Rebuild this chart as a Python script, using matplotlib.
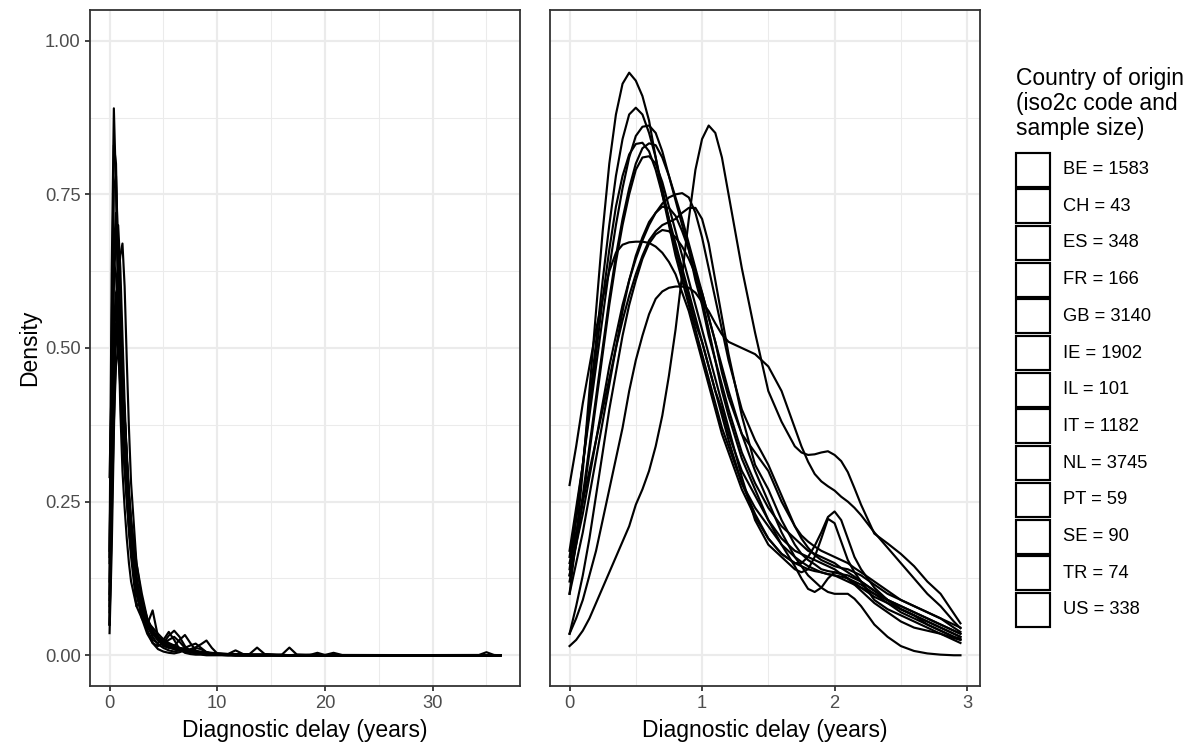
import matplotlib
matplotlib.use("Agg")
import matplotlib.pyplot as plt
from matplotlib.patches import Rectangle

plt.rcParams["font.family"] = ["Liberation Sans", "DejaVu Sans"]

# legend: iso2c code and sample size
codes = ["BE", "CH", "ES", "FR", "GB", "IE", "IL", "IT", "NL", "PT", "SE", "TR", "US"]
sizes = [1583, 43, 348, 166, 3140, 1902, 101, 1182, 3745, 59, 90, 74, 338]

x_full = [0, 0.2, 0.4, 0.6, 0.8, 1.0, 1.2, 1.4, 1.6, 1.8, 2.0,
          2.5, 3.0, 3.5, 4.0, 4.5, 5.0, 5.5, 6.0, 6.5, 7.0, 7.5, 8.0, 8.5, 9.0, 9.5, 10.0,
          11.0, 11.7, 12.4, 13.0, 13.7, 14.4, 16.0, 16.7, 17.4, 18.6, 19.3, 20.0, 20.8, 21.6,
          34.3, 35.0, 35.7, 36.3]
x_short = [0.00, 0.05, 0.10, 0.15, 0.20, 0.25, 0.30, 0.35, 0.40, 0.45, 0.50, 0.55, 0.60,
           0.65, 0.70, 0.75, 0.80, 0.85, 0.90, 0.95, 1.00, 1.05, 1.10, 1.15, 1.20,
           1.3, 1.4, 1.5, 1.6, 1.7, 1.75, 1.8, 1.85, 1.9, 1.95, 2.0, 2.05, 2.1, 2.15, 2.2,
           2.3, 2.4, 2.5, 2.6, 2.7, 2.8, 2.9, 2.95]

# density over the whole range (left panel)
full_be = [0.15, 0.48, 0.76, 0.78, 0.66, 0.53, 0.43, 0.35, 0.28, 0.22, 0.18,
           0.11, 0.075, 0.05, 0.038, 0.03, 0.024, 0.019, 0.015, 0.012, 0.01, 0.008, 0.006, 0.005, 0.004, 0.003, 0.002,
           0.002, 0.002, 0.001, 0.001, 0.001, 0.001, 0, 0, 0, 0, 0, 0, 0, 0, 0, 0, 0, 0]
full_ch = [0.05, 0.22, 0.38, 0.47, 0.50, 0.49, 0.45, 0.39, 0.33, 0.27, 0.22,
           0.13, 0.075, 0.04, 0.025, 0.02, 0.025, 0.038, 0.025, 0.01, 0.004, 0.002, 0.001, 0.001, 0, 0, 0,
           0, 0, 0, 0, 0, 0, 0, 0, 0, 0, 0, 0, 0, 0, 0.0005, 0.005, 0.0005, 0]
full_es = [0.08, 0.36, 0.55, 0.58, 0.53, 0.46, 0.39, 0.33, 0.27, 0.22, 0.18,
           0.11, 0.075, 0.05, 0.035, 0.025, 0.018, 0.013, 0.01, 0.008, 0.006, 0.005, 0.004, 0.003, 0.002, 0.002, 0.001,
           0.001, 0, 0, 0, 0, 0, 0, 0, 0, 0, 0, 0, 0, 0, 0, 0, 0, 0]
full_fr = [0.05, 0.28, 0.48, 0.52, 0.50, 0.45, 0.39, 0.33, 0.27, 0.22, 0.18,
           0.12, 0.08, 0.05, 0.03, 0.018, 0.012, 0.008, 0.006, 0.008, 0.012, 0.016, 0.019, 0.012, 0.005, 0.002, 0.001,
           0.001, 0, 0, 0, 0, 0, 0, 0, 0, 0, 0, 0, 0, 0, 0, 0, 0, 0]
full_gb = [0.12, 0.52, 0.83, 0.80, 0.62, 0.49, 0.41, 0.33, 0.26, 0.20, 0.16,
           0.08, 0.09, 0.05, 0.035, 0.028, 0.022, 0.016, 0.012, 0.009, 0.007, 0.006, 0.005, 0.004, 0.003, 0.003, 0.002,
           0.002, 0.001, 0.001, 0.001, 0.001, 0.001, 0.001, 0, 0.001, 0.001, 0, 0, 0, 0, 0, 0, 0, 0]
full_ie = [0.10, 0.40, 0.66, 0.72, 0.64, 0.55, 0.47, 0.39, 0.32, 0.26, 0.21,
           0.12, 0.075, 0.05, 0.073, 0.03, 0.022, 0.017, 0.013, 0.01, 0.008, 0.006, 0.005, 0.004, 0.003, 0.002, 0.002,
           0.001, 0.001, 0.001, 0, 0, 0, 0, 0, 0, 0, 0, 0, 0, 0, 0, 0, 0, 0]
full_il = [0.05, 0.25, 0.45, 0.53, 0.55, 0.52, 0.45, 0.38, 0.31, 0.25, 0.20,
           0.12, 0.07, 0.04, 0.02, 0.01, 0.006, 0.004, 0.003, 0.005, 0.008, 0.01, 0.013, 0.018, 0.024, 0.012, 0.003,
           0.001, 0, 0, 0, 0, 0, 0, 0, 0, 0, 0, 0.0005, 0.004, 0.0005, 0, 0, 0, 0]
full_it = [0.09, 0.35, 0.60, 0.69, 0.70, 0.63, 0.52, 0.41, 0.32, 0.25, 0.20,
           0.12, 0.08, 0.055, 0.04, 0.03, 0.022, 0.016, 0.012, 0.009, 0.007, 0.005, 0.004, 0.003, 0.003, 0.002, 0.002,
           0.001, 0.001, 0, 0, 0, 0, 0, 0, 0, 0, 0, 0, 0, 0, 0, 0, 0, 0]
full_nl = [0.17, 0.62, 0.89, 0.76, 0.55, 0.40, 0.30, 0.24, 0.19, 0.15, 0.12,
           0.08, 0.06, 0.045, 0.035, 0.025, 0.018, 0.013, 0.01, 0.008, 0.007, 0.006, 0.005, 0.004, 0.004, 0.003, 0.003,
           0.002, 0.002, 0.001, 0.001, 0.001, 0.001, 0, 0, 0, 0, 0, 0, 0, 0, 0, 0, 0, 0]
full_pt = [0.29, 0.45, 0.53, 0.54, 0.50, 0.44, 0.37, 0.31, 0.26, 0.21, 0.17,
           0.10, 0.06, 0.035, 0.02, 0.015, 0.02, 0.032, 0.04, 0.03, 0.015, 0.006, 0.003, 0.002, 0.001, 0.001, 0.001,
           0, 0, 0, 0, 0, 0, 0.001, 0.0125, 0.001, 0, 0, 0, 0, 0, 0, 0, 0, 0]
full_se = [0.07, 0.30, 0.50, 0.59, 0.60, 0.55, 0.47, 0.39, 0.32, 0.26, 0.22,
           0.15, 0.10, 0.06, 0.04, 0.03, 0.02, 0.025, 0.03, 0.022, 0.012, 0.008, 0.012, 0.01, 0.005, 0.003, 0.002,
           0.001, 0.001, 0.001, 0.002, 0.0125, 0.002, 0, 0, 0, 0, 0, 0, 0, 0, 0, 0, 0, 0]
full_tr = [0.036, 0.17, 0.36, 0.52, 0.61, 0.65, 0.67, 0.60, 0.48, 0.37, 0.28,
           0.15, 0.09, 0.06, 0.04, 0.025, 0.015, 0.012, 0.015, 0.025, 0.033, 0.02, 0.008, 0.003, 0.001, 0.001, 0.001,
           0, 0, 0, 0, 0, 0, 0, 0, 0, 0.0005, 0.004, 0.0005, 0, 0, 0, 0, 0, 0]
full_us = [0.16, 0.47, 0.64, 0.62, 0.52, 0.43, 0.36, 0.30, 0.25, 0.21, 0.17,
           0.11, 0.075, 0.055, 0.045, 0.035, 0.026, 0.02, 0.016, 0.012, 0.01, 0.008, 0.007, 0.006, 0.005, 0.004, 0.003,
           0.002, 0.008, 0.002, 0.001, 0.001, 0.001, 0, 0, 0, 0, 0, 0, 0, 0, 0, 0, 0, 0]

# density of delays under 3 years (right panel)
short_be = [0.17, 0.24, 0.31, 0.39, 0.47, 0.55, 0.63, 0.70, 0.76, 0.81, 0.845, 0.86, 0.862,
            0.85, 0.82, 0.78, 0.74, 0.70, 0.66, 0.61, 0.57, 0.52, 0.48, 0.44, 0.40,
            0.33, 0.28, 0.24, 0.21, 0.19, 0.18, 0.17, 0.165, 0.16, 0.155, 0.15, 0.142, 0.135, 0.128, 0.12,
            0.105, 0.09, 0.08, 0.07, 0.06, 0.05, 0.04, 0.035]
short_ch = [0.035, 0.06, 0.09, 0.13, 0.17, 0.22, 0.27, 0.32, 0.37, 0.43, 0.48, 0.52, 0.555,
            0.58, 0.592, 0.598, 0.60, 0.60, 0.598, 0.59, 0.575, 0.56, 0.54, 0.522, 0.51,
            0.50, 0.49, 0.47, 0.43, 0.37, 0.34, 0.315, 0.295, 0.283, 0.275, 0.268, 0.258, 0.25, 0.24, 0.228,
            0.20, 0.175, 0.15, 0.125, 0.10, 0.08, 0.055, 0.044]
short_es = [0.10, 0.15, 0.20, 0.26, 0.32, 0.38, 0.44, 0.50, 0.56, 0.61, 0.65, 0.68, 0.705,
            0.72, 0.73, 0.728, 0.715, 0.69, 0.66, 0.62, 0.58, 0.53, 0.48, 0.43, 0.39,
            0.32, 0.27, 0.22, 0.18, 0.145, 0.125, 0.108, 0.103, 0.11, 0.125, 0.135, 0.133, 0.125, 0.115, 0.105,
            0.085, 0.07, 0.055, 0.045, 0.04, 0.035, 0.028, 0.025]
short_fr = [0.035, 0.08, 0.13, 0.19, 0.26, 0.33, 0.40, 0.46, 0.52, 0.57, 0.61, 0.645, 0.67,
            0.685, 0.692, 0.69, 0.68, 0.665, 0.645, 0.62, 0.59, 0.55, 0.51, 0.47, 0.43,
            0.36, 0.30, 0.25, 0.20, 0.16, 0.145, 0.13, 0.12, 0.11, 0.103, 0.10, 0.10, 0.10, 0.092, 0.08,
            0.05, 0.03, 0.015, 0.007, 0.003, 0.001, 0.0, 0.0]
short_gb = [0.14, 0.22, 0.31, 0.41, 0.51, 0.61, 0.70, 0.78, 0.84, 0.88, 0.891, 0.88, 0.85,
            0.81, 0.76, 0.71, 0.66, 0.62, 0.58, 0.54, 0.51, 0.47, 0.43, 0.40, 0.36,
            0.30, 0.26, 0.22, 0.19, 0.17, 0.165, 0.16, 0.155, 0.15, 0.145, 0.14, 0.132, 0.125, 0.118, 0.11,
            0.095, 0.085, 0.075, 0.065, 0.055, 0.045, 0.035, 0.03]
short_ie = [0.16, 0.23, 0.31, 0.40, 0.49, 0.58, 0.66, 0.73, 0.78, 0.815, 0.832, 0.834, 0.82,
            0.79, 0.75, 0.71, 0.67, 0.63, 0.59, 0.55, 0.51, 0.47, 0.43, 0.39, 0.35,
            0.28, 0.23, 0.19, 0.165, 0.15, 0.15, 0.16, 0.178, 0.20, 0.225, 0.234, 0.22, 0.19, 0.16, 0.14,
            0.11, 0.09, 0.075, 0.065, 0.055, 0.045, 0.035, 0.03]
short_il = [0.15, 0.20, 0.25, 0.30, 0.35, 0.40, 0.45, 0.50, 0.545, 0.585, 0.62, 0.65, 0.675,
            0.69, 0.70, 0.705, 0.71, 0.72, 0.728, 0.728, 0.71, 0.67, 0.61, 0.55, 0.49,
            0.39, 0.31, 0.27, 0.22, 0.18, 0.165, 0.155, 0.148, 0.14, 0.137, 0.135, 0.132, 0.13, 0.125, 0.12,
            0.105, 0.09, 0.075, 0.065, 0.05, 0.04, 0.03, 0.027]
short_it = [0.13, 0.19, 0.26, 0.34, 0.42, 0.50, 0.58, 0.65, 0.71, 0.76, 0.80, 0.825, 0.833,
            0.83, 0.81, 0.78, 0.745, 0.71, 0.67, 0.63, 0.59, 0.55, 0.51, 0.46, 0.42,
            0.36, 0.33, 0.30, 0.25, 0.21, 0.195, 0.185, 0.177, 0.17, 0.165, 0.16, 0.155, 0.15, 0.142, 0.135,
            0.12, 0.105, 0.09, 0.08, 0.07, 0.06, 0.045, 0.038]
short_nl = [0.10, 0.19, 0.30, 0.43, 0.56, 0.69, 0.80, 0.88, 0.93, 0.948, 0.935, 0.91, 0.87,
            0.81, 0.75, 0.70, 0.65, 0.61, 0.57, 0.53, 0.49, 0.45, 0.41, 0.37, 0.34,
            0.28, 0.24, 0.21, 0.18, 0.16, 0.152, 0.145, 0.14, 0.135, 0.132, 0.13, 0.125, 0.12, 0.115, 0.11,
            0.10, 0.09, 0.08, 0.07, 0.06, 0.05, 0.04, 0.035]
short_pt = [0.277, 0.34, 0.41, 0.47, 0.53, 0.58, 0.625, 0.655, 0.668, 0.672, 0.673, 0.673, 0.671,
            0.665, 0.655, 0.64, 0.62, 0.59, 0.56, 0.52, 0.48, 0.44, 0.40, 0.36, 0.33,
            0.27, 0.225, 0.19, 0.165, 0.15, 0.145, 0.14, 0.137, 0.135, 0.132, 0.13, 0.128, 0.125, 0.12, 0.115,
            0.10, 0.085, 0.07, 0.06, 0.05, 0.04, 0.03, 0.025]
short_se = [0.13, 0.18, 0.23, 0.29, 0.35, 0.41, 0.47, 0.52, 0.57, 0.61, 0.645, 0.675, 0.70,
            0.72, 0.735, 0.745, 0.75, 0.752, 0.745, 0.72, 0.68, 0.63, 0.58, 0.53, 0.48,
            0.40, 0.35, 0.31, 0.26, 0.21, 0.19, 0.175, 0.163, 0.155, 0.15, 0.145, 0.142, 0.14, 0.135, 0.13,
            0.115, 0.10, 0.09, 0.08, 0.07, 0.06, 0.05, 0.045]
short_tr = [0.015, 0.025, 0.04, 0.06, 0.085, 0.11, 0.135, 0.16, 0.185, 0.21, 0.245, 0.27, 0.30,
            0.34, 0.39, 0.455, 0.53, 0.62, 0.71, 0.79, 0.84, 0.862, 0.85, 0.81, 0.75,
            0.63, 0.525, 0.43, 0.38, 0.34, 0.33, 0.326, 0.327, 0.33, 0.332, 0.326, 0.316, 0.298, 0.272, 0.245,
            0.198, 0.182, 0.165, 0.145, 0.12, 0.10, 0.068, 0.052]
short_us = [0.12, 0.18, 0.25, 0.33, 0.41, 0.49, 0.57, 0.64, 0.70, 0.75, 0.79, 0.81, 0.812,
            0.80, 0.77, 0.73, 0.69, 0.65, 0.61, 0.57, 0.53, 0.49, 0.45, 0.41, 0.37,
            0.29, 0.22, 0.18, 0.16, 0.14, 0.135, 0.14, 0.16, 0.19, 0.222, 0.215, 0.185, 0.155, 0.135, 0.12,
            0.09, 0.075, 0.065, 0.055, 0.045, 0.035, 0.025, 0.02]

full_curves = [full_be, full_ch, full_es, full_fr, full_gb, full_ie, full_il,
               full_it, full_nl, full_pt, full_se, full_tr, full_us]
short_curves = [short_be, short_ch, short_es, short_fr, short_gb, short_ie, short_il,
                short_it, short_nl, short_pt, short_se, short_tr, short_us]

W, H = 1197, 745
fig = plt.figure(figsize=(W / 100, H / 100), dpi=100)


def px_box(left, top, right, bottom):
    return [left / W, 1 - bottom / H, (right - left) / W, (bottom - top) / H]


ax1 = fig.add_axes(px_box(90, 10, 520, 686))
ax2 = fig.add_axes(px_box(550, 10, 980, 686))

LW = 1.55
GRID = "#EBEBEB"
DARK = "#333333"
TITLE_SIZE = 16.5
TEXT_SIZE = 13.2


def style(ax, xs, major, minor, show_y):
    xmax = max(xs)
    ax.set_xlim(-0.05 * xmax, 1.05 * xmax)
    ax.set_ylim(-0.05, 1.05)
    ax.set_xticks(major)
    ax.set_xticks(minor, minor=True)
    ax.set_yticks([0, 0.25, 0.5, 0.75, 1.0])
    ax.set_yticks([0.125, 0.375, 0.625, 0.875], minor=True)
    ax.grid(True, which="major", color=GRID, lw=LW)
    ax.grid(True, which="minor", color=GRID, lw=LW / 2)
    ax.set_axisbelow(True)
    for s in ax.spines.values():
        s.set_color(DARK)
        s.set_linewidth(1.3)
    ax.tick_params(which="major", length=3.8, width=1.3, color=DARK,
                   labelsize=TEXT_SIZE, labelcolor="#4D4D4D", pad=3)
    ax.tick_params(which="minor", length=0)
    if show_y:
        ax.set_yticklabels(["0.00", "0.25", "0.50", "0.75", "1.00"])
    else:
        ax.tick_params(axis="y", which="both", left=False, labelleft=False)


style(ax1, x_full, [0, 10, 20, 30], [5, 15, 25, 35], True)
style(ax2, x_short, [0, 1, 2, 3], [0.5, 1.5, 2.5], False)

for ys in full_curves:
    ax1.plot(x_full, ys, color="black", lw=LW, solid_joinstyle="round")
for ys in short_curves:
    ax2.plot(x_short, ys, color="black", lw=LW, solid_joinstyle="round")

# axis titles
fig.text(305 / W, 1 - 737 / H, "Diagnostic delay (years)", ha="center", va="baseline", fontsize=TITLE_SIZE)
fig.text(765 / W, 1 - 737 / H, "Diagnostic delay (years)", ha="center", va="baseline", fontsize=TITLE_SIZE)
fig.text(30 / W, 1 - 348 / H, "Density", ha="center", va="center", rotation=90, fontsize=TITLE_SIZE)

# legend drawn by hand (empty keys, ggplot style)
fig.text(1016 / W, 1 - 67 / H, "Country of origin\n(iso2c code and\nsample size)",
         ha="left", va="top", fontsize=TITLE_SIZE, linespacing=1.1)
key_top, key_size, key_step = 152.5, 34, 36.7
for i, (code, n) in enumerate(zip(codes, sizes)):
    top = key_top + i * key_step
    fig.add_artist(Rectangle((1016 / W, 1 - (top + key_size) / H), key_size / W, key_size / H,
                             transform=fig.transFigure, facecolor="white",
                             edgecolor="black", lw=LW))
    fig.text(1063 / W, 1 - (top + key_size / 2) / H, f"{code} = {n}",
             ha="left", va="center", fontsize=TEXT_SIZE)

fig.savefig("out.png", dpi=100)
